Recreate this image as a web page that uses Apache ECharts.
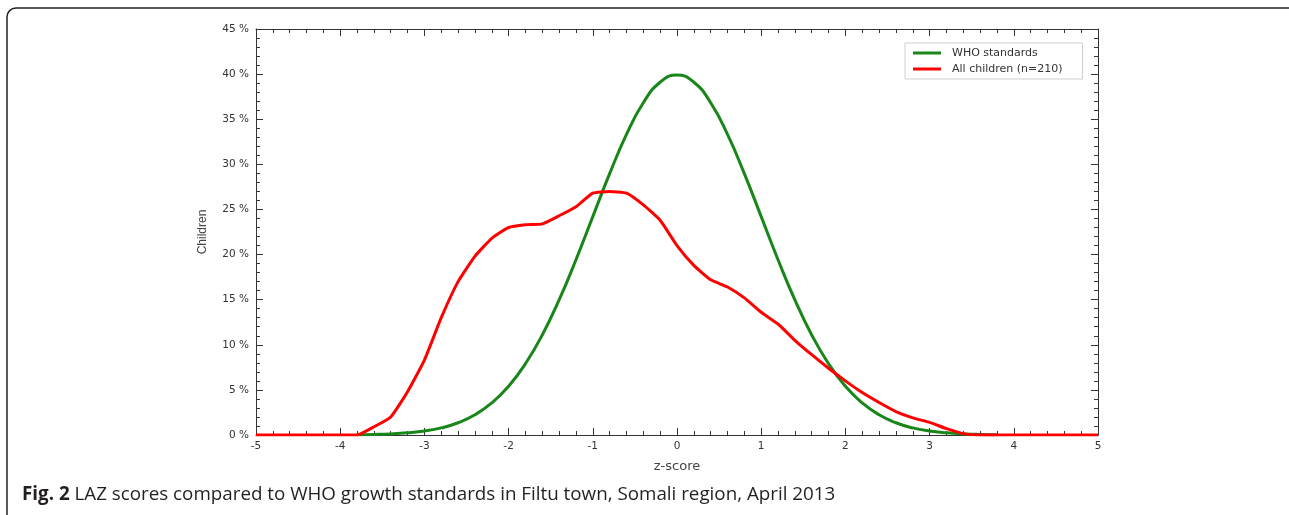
<!DOCTYPE html>
<html>
<head>
<meta charset="utf-8">
<script src="https://cdn.jsdelivr.net/npm/echarts@6/dist/echarts.min.js"></script>
<style>
html,body{margin:0;padding:0;background:#fff;}
#chart{width:1289px;height:515px;}
</style>
</head>
<body>
<div id="chart"></div>
<script>
// ---- data ----
const seriesNames = ['WHO standards', 'All children (n=210)'];
const whoZ = [-3.8,-3.6,-3.4,-3.2,-3.0,-2.8,-2.6,-2.4,-2.2,-2.0,-1.8,-1.6,-1.4,-1.2,-1.0,-0.8,-0.6,-0.4,-0.2,0,0.2,0.4,0.6,0.8,1.0,1.2,1.4,1.6,1.8,2.0,2.2,2.4,2.6,2.8,3.0,3.2,3.4,3.6,3.8];
const whoValues = [0.03,0.06,0.12,0.24,0.44,0.79,1.36,2.24,3.55,5.40,7.90,11.09,14.97,19.42,24.20,28.97,33.32,36.83,39.10,39.89,39.10,36.83,33.32,28.97,24.20,19.42,14.97,11.09,7.90,5.40,3.55,2.24,1.36,0.79,0.44,0.24,0.12,0.06,0.03];
const childZ = [-5,-3.8,-3.6,-3.4,-3.2,-3.0,-2.8,-2.6,-2.4,-2.2,-2.0,-1.8,-1.6,-1.4,-1.2,-1.0,-0.8,-0.6,-0.4,-0.2,0,0.2,0.4,0.6,0.8,1.0,1.2,1.4,1.6,1.8,2.0,2.2,2.4,2.6,2.8,3.0,3.2,3.4,3.6,5];
const childValues = [0,0,0.9,2.0,4.8,8.3,13.0,17.0,19.8,21.8,23.0,23.3,23.4,24.3,25.3,26.8,27.0,26.8,25.5,23.8,21.0,18.8,17.2,16.4,15.2,13.6,12.3,10.5,8.9,7.4,6.0,4.7,3.6,2.6,1.9,1.4,0.7,0.15,0,0];
const xTicks = [-5,-4,-3,-2,-1,0,1,2,3,4,5];
const yTicks = [0,5,10,15,20,25,30,35,40,45];
const xAxisTitle = 'z-score';
const yAxisTitle = 'Children';
const captionBold = 'Fig. 2';
const captionRest = ' LAZ scores compared to WHO growth standards in Filtu town, Somali region, April 2013';

const whoData = whoZ.map((z, i) => [z, whoValues[i]]);
const childData = childZ.map((z, i) => [z, childValues[i]]);

const axisColor = '#333';
const tickFont = { fontFamily: 'DejaVu Sans', fontSize: 10.5, color: '#333' };

function boxAxis(extra) {
  return Object.assign({
    axisLine: { show: true, onZero: false, lineStyle: { color: axisColor, width: 1 } },
    axisTick: { show: true, inside: true, length: 7, lineStyle: { color: axisColor } },
    minorTick: { show: true, splitNumber: 5, length: 4, lineStyle: { color: axisColor } },
    splitLine: { show: false },
    minorSplitLine: { show: false }
  }, extra);
}

const chart = echarts.init(document.getElementById('chart'), null, { renderer: 'canvas' });
chart.setOption({
  animation: false,
  backgroundColor: '#fff',
  grid: { left: 256, right: 191, top: 29, bottom: 80, containLabel: false },
  xAxis: [
    boxAxis({ type: 'value', position: 'bottom', min: xTicks[0], max: xTicks[xTicks.length - 1], interval: 1,
      axisLabel: Object.assign({ margin: 6, formatter: v => String(v) }, tickFont) }),
    boxAxis({ type: 'value', position: 'top', min: xTicks[0], max: xTicks[xTicks.length - 1], interval: 1,
      axisLabel: { show: false } })
  ],
  yAxis: [
    boxAxis({ type: 'value', position: 'left', min: yTicks[0], max: yTicks[yTicks.length - 1], interval: 5,
      axisLabel: Object.assign({ margin: 7, formatter: v => v + ' %' }, tickFont) }),
    boxAxis({ type: 'value', position: 'right', min: yTicks[0], max: yTicks[yTicks.length - 1], interval: 5,
      axisLabel: { show: false } })
  ],
  legend: {
    orient: 'vertical',
    left: 905, top: 43,
    padding: [3, 20, 3, 8],
    itemGap: 2,
    itemWidth: 28, itemHeight: 3,
    icon: 'rect',
    borderColor: '#cfcfcf', borderWidth: 1,
    backgroundColor: '#fff',
    textStyle: { fontFamily: 'DejaVu Sans', fontSize: 11, color: '#333', lineHeight: 14, padding: [0, 0, 0, 6] },
    data: seriesNames
  },
  series: [
    { name: seriesNames[0], type: 'line', data: whoData, showSymbol: false, symbol: 'none', smooth: true,
      lineStyle: { color: '#188618', width: 3 }, itemStyle: { color: '#188618' }, z: 2 },
    { name: seriesNames[1], type: 'line', data: childData, showSymbol: false, symbol: 'none', smooth: 0.15,
      lineStyle: { color: '#ff0000', width: 3 }, itemStyle: { color: '#ff0000' }, z: 3 }
  ],
  graphic: [
    { type: 'rect', shape: { x: 7, y: 8, width: 1290, height: 530, r: 9 },
      style: { fill: 'none', stroke: '#222', lineWidth: 1.5 }, silent: true, z: 0 },
    { type: 'text', x: 677, y: 467,
      style: { text: xAxisTitle, fontFamily: 'DejaVu Sans', fontSize: 13, fill: '#444', textAlign: 'center', textVerticalAlign: 'middle' } },
    { type: 'text', x: 203, y: 232, rotation: Math.PI / 2,
      style: { text: yAxisTitle, fontFamily: 'Liberation Sans', fontSize: 12, fill: '#444', textAlign: 'center', textVerticalAlign: 'middle' } },
    { type: 'text', x: 22, y: 495,
      style: { text: '{b|' + captionBold + '}{r|' + captionRest + '}',
        textVerticalAlign: 'middle',
        rich: {
          b: { fontFamily: 'Open Sans', fontSize: 18.8, fontWeight: 'bold', fill: '#231f20' },
          r: { fontFamily: 'Open Sans', fontSize: 18.8, fill: '#231f20' }
        } } }
  ]
});
</script>
</body>
</html>
